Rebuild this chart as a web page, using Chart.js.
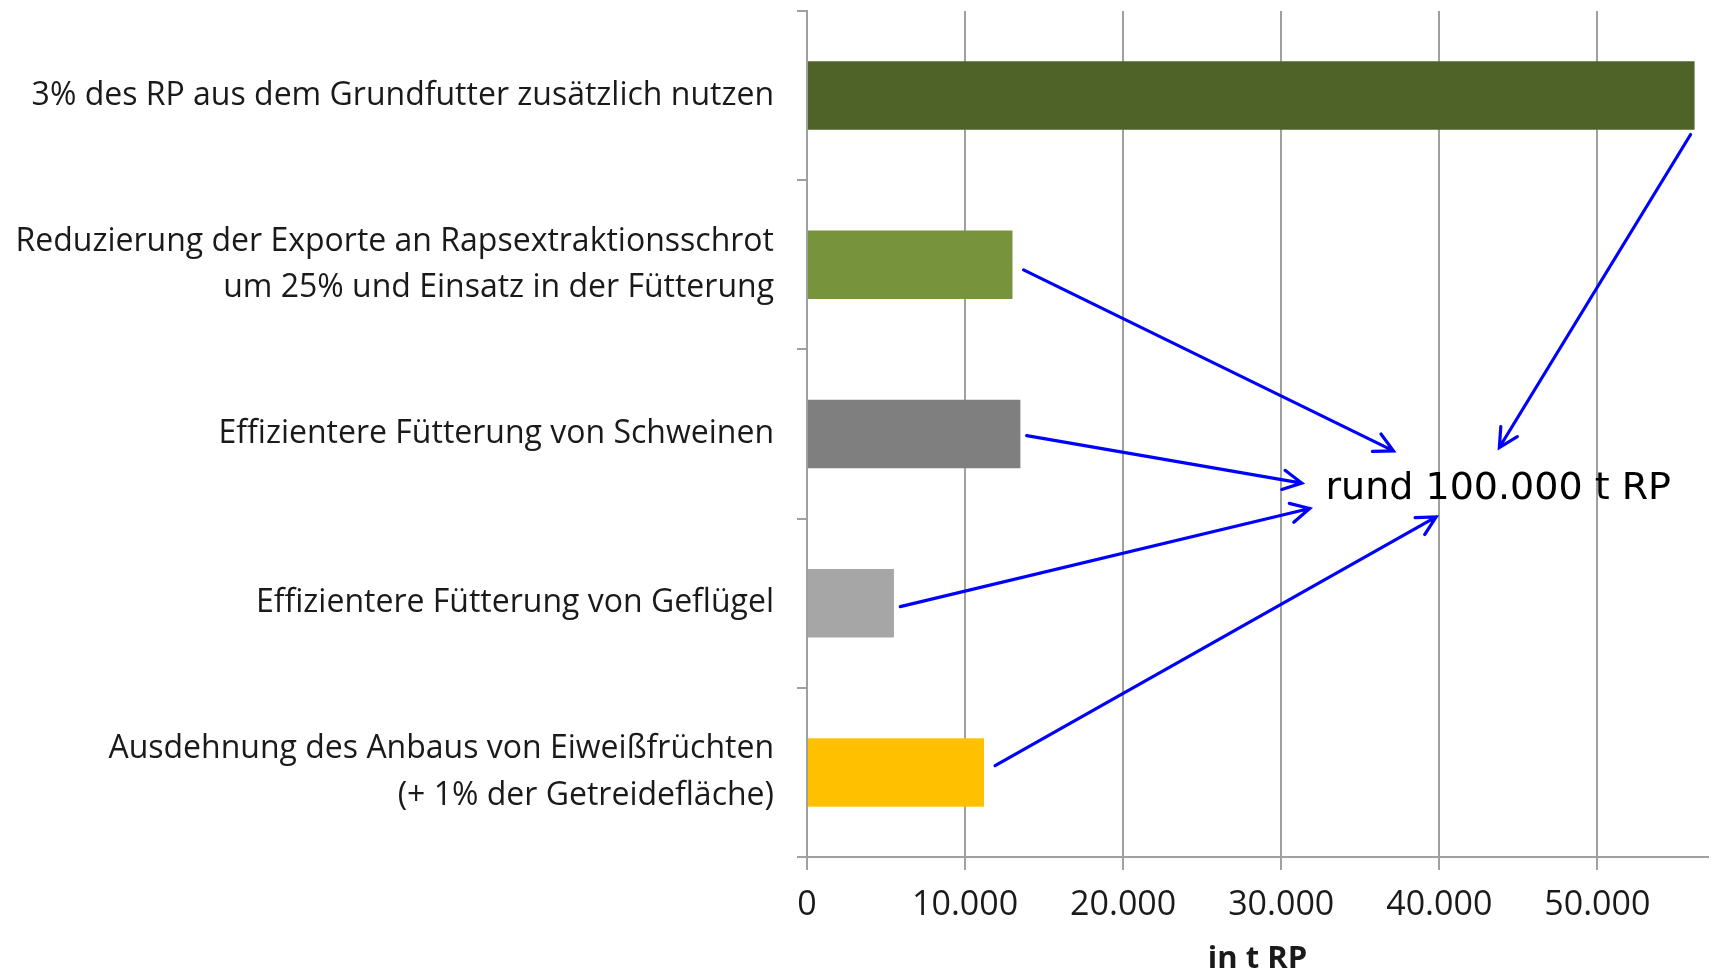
<!DOCTYPE html>
<html>
<head>
<meta charset="utf-8">
<script src="https://cdn.jsdelivr.net/npm/chart.js@4"></script>
<style>
  html, body { margin: 0; padding: 0; background: #fff; }
  #wrap { width: 1711px; height: 972px; }
</style>
</head>
<body>
<div id="wrap"><canvas id="chart" width="1711" height="972"></canvas></div>
<script>
// categories (top to bottom) and values in t RP
const categories = [
    '3% des RP aus dem Grundfutter zusätzlich nutzen',
    ['Reduzierung der Exporte an Rapsextraktionsschrot', 'um 25% und Einsatz in der Fütterung'],
    'Effizientere Fütterung von Schweinen',
    'Effizientere Fütterung von Geflügel',
    ['Ausdehnung des Anbaus von Eiweißfrüchten', '(+ 1% der Getreidefläche)']
];
const values = [56150, 13000, 13500, 5500, 11200];
const barColors = ['#4F6228', '#77933C', '#7F7F7F', '#A6A6A6', '#FFC000'];
const xTicks = [0, 10000, 20000, 30000, 40000, 50000];
const xMax = 57000;
const axisTitle = 'in t RP';

// annotation: arrows from bar ends to the total, in data units [value, category index]
const arrowFrom = [[55900, 0.23], [13700, 1.03], [13900, 2.01], [5900, 3.02], [11900, 3.96]];
const arrowTo = [[43800, 2.08], [37100, 2.10], [31300, 2.29], [31800, 2.44], [39800, 2.49]];
const totalLabel = 'rund 100.000 t RP';
const totalAt = [32800, 2.385];

const fmt = v => String(v).replace(/\B(?=(\d{3})+(?!\d))/g, '.');
const gray = '#A0A0A0';
const labelFont = '"Open Sans"';

const arrowPlugin = {
    id: 'arrows',
    afterDatasetsDraw(chart) {
        const ctx = chart.ctx;
        const xs = chart.scales.x, ys = chart.scales.y;
        ctx.save();
        ctx.strokeStyle = '#0000FF';
        ctx.lineWidth = 3.2;
        ctx.lineCap = 'round';
        for (let i = 0; i < arrowFrom.length; i++) {
            const x1 = xs.getPixelForValue(arrowFrom[i][0]);
            const y1 = ys.getPixelForValue(arrowFrom[i][1]);
            const x2 = xs.getPixelForValue(arrowTo[i][0]);
            const y2 = ys.getPixelForValue(arrowTo[i][1]);
            const a = Math.atan2(y2 - y1, x2 - x1);
            const h = 21, spread = 0.48;
            ctx.beginPath();
            ctx.moveTo(x1, y1);
            ctx.lineTo(x2, y2);
            ctx.moveTo(x2 - h * Math.cos(a - spread), y2 - h * Math.sin(a - spread));
            ctx.lineTo(x2, y2);
            ctx.lineTo(x2 - h * Math.cos(a + spread), y2 - h * Math.sin(a + spread));
            ctx.stroke();
        }
        ctx.fillStyle = '#000';
        ctx.font = '38px "DejaVu Sans", sans-serif';
        ctx.textAlign = 'left';
        ctx.textBaseline = 'alphabetic';
        ctx.fillText(totalLabel, xs.getPixelForValue(totalAt[0]), ys.getPixelForValue(totalAt[1]));
        ctx.restore();
    }
};

new Chart(document.getElementById('chart'), {
    type: 'bar',
    data: {
        labels: categories,
        datasets: [{
            data: values,
            backgroundColor: barColors,
            borderWidth: 0,
            categoryPercentage: 0.81,
            barPercentage: 0.5
        }]
    },
    options: {
        indexAxis: 'y',
        responsive: false,
        animation: false,
        layout: { padding: { top: 11, right: 3, left: 0, bottom: 0 } },
        plugins: {
            legend: { display: false },
            tooltip: { enabled: false }
        },
        scales: {
            x: {
                min: 0,
                max: xMax,
                afterBuildTicks: s => { s.ticks = xTicks.map(v => ({ value: v })); },
                afterFit: s => { s.height = 115; s.paddingLeft = 0; s.paddingRight = 0; },
                grid: { color: gray, lineWidth: 2, tickLength: 13 },
                border: { color: gray, width: 2 },
                ticks: {
                    color: '#1a1a1a',
                    padding: 15,
                    font: { family: labelFont, size: 34 },
                    callback: v => fmt(v)
                },
                title: {
                    display: true,
                    text: axisTitle,
                    color: '#1a1a1a',
                    padding: { top: 0, bottom: -6 },
                    font: { family: labelFont, size: 31, weight: 'bold' }
                }
            },
            y: {
                offset: true,
                afterFit: s => { s.width = 807; s.paddingTop = 0; s.paddingBottom = 0; },
                grid: { drawOnChartArea: false, color: gray, lineWidth: 2, tickLength: 10, offset: true },
                border: { color: gray, width: 2 },
                ticks: {
                    color: '#1a1a1a',
                    padding: 23,
                    font: { family: labelFont, size: 32, lineHeight: 1.44 }
                }
            }
        }
    },
    plugins: [arrowPlugin]
});
</script>
</body>
</html>
